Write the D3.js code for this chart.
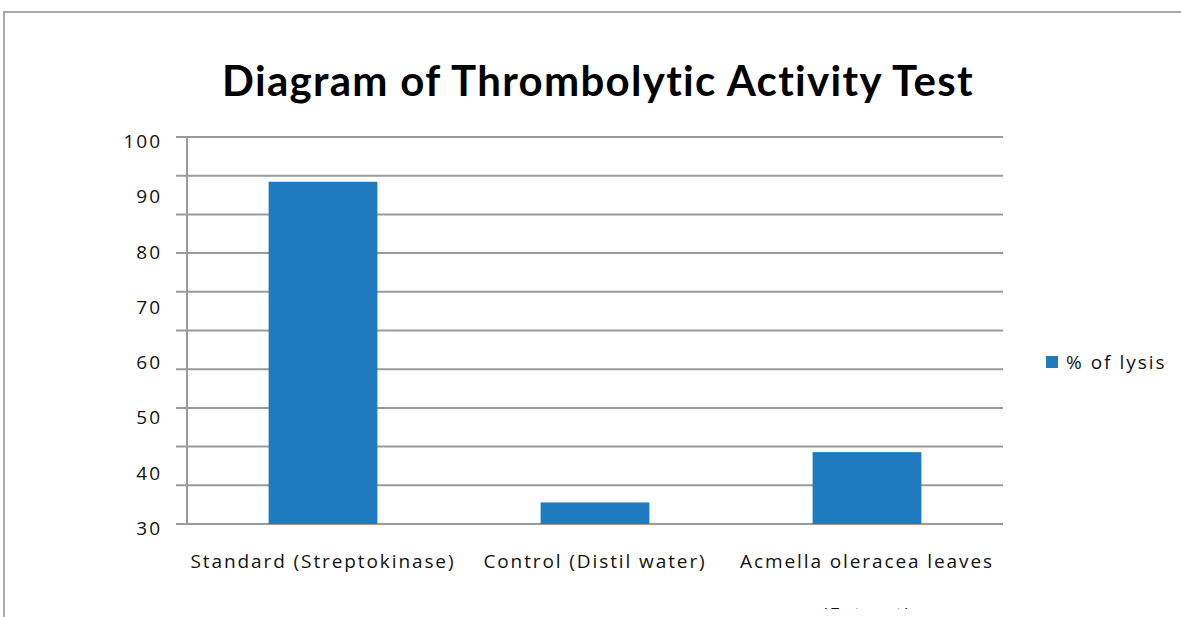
<!DOCTYPE html>
<html>
<head>
<meta charset="utf-8">
<script src="https://cdnjs.cloudflare.com/ajax/libs/d3/7.8.5/d3.min.js"></script>
<style>
  body { margin: 0; background: #fff; }
  svg { display: block; }
</style>
</head>
<body>
<script>
var W = 1181, H = 617;

var categories = ["Standard (Streptokinase)", "Control (Distil water)", "Acmella oleracea leaves"];
var lysis = [91.9, 33.9, 43.0];
var tickLabels = [30, 40, 50, 60, 70, 80, 90, 100];
var seriesName = "% of lysis";
var barColor = "#1f7bbf";

var plot = {left: 187, right: 1003, top: 137, bottom: 524};

var svg = d3.select("body").append("svg")
    .attr("width", W)
    .attr("height", H);

// chart frame (cut off on the right and bottom)
svg.append("rect")
    .attr("x", 4).attr("y", 12)
    .attr("width", W + 10).attr("height", H + 10)
    .attr("fill", "none")
    .attr("stroke", "#a9a9a9")
    .attr("stroke-width", 2);

svg.append("text")
    .attr("x", 598).attr("y", 96)
    .attr("text-anchor", "middle")
    .attr("font-family", "Lato, 'Open Sans', sans-serif")
    .attr("font-weight", "bold")
    .attr("font-size", 42)
    .attr("letter-spacing", 1.3)
    .attr("fill", "#000")
    .text("Diagram of Thrombolytic Activity Test");

var x = d3.scaleBand()
    .domain(categories)
    .range([plot.left, plot.right])
    .paddingInner(0.6)
    .paddingOuter(0.3);

var y = d3.scaleLinear()
    .domain([30, 100])
    .range([plot.bottom, plot.top]);

// gridlines: 10 equal steps over the axis
var gridVals = d3.range(11).map(function(i) { return 30 + i * 7; });

svg.selectAll("line.grid")
    .data(gridVals)
  .enter().append("line")
    .attr("class", "grid")
    .attr("x1", plot.left - 11)
    .attr("x2", plot.right)
    .attr("y1", function(d) { return y(d); })
    .attr("y2", function(d) { return y(d); })
    .attr("stroke", "#9a9a9a")
    .attr("stroke-width", 2);

svg.append("line")
    .attr("x1", plot.left).attr("x2", plot.left)
    .attr("y1", plot.top).attr("y2", plot.bottom)
    .attr("stroke", "#9a9a9a")
    .attr("stroke-width", 2);

svg.selectAll("text.ytick")
    .data(tickLabels)
  .enter().append("text")
    .attr("class", "ytick")
    .attr("x", 162)
    .attr("y", function(d) { return y(d) + 11; })
    .attr("text-anchor", "end")
    .attr("font-family", "'Open Sans', sans-serif")
    .attr("font-size", 19)
    .attr("letter-spacing", 2)
    .attr("fill", "#111")
    .text(function(d) { return d; });

svg.selectAll("rect.bar")
    .data(lysis)
  .enter().append("rect")
    .attr("class", "bar")
    .attr("x", function(d, i) { return x(categories[i]); })
    .attr("width", x.bandwidth())
    .attr("y", function(d) { return y(d); })
    .attr("height", function(d) { return y(30) - y(d); })
    .attr("fill", barColor);

svg.selectAll("text.xlab")
    .data(categories)
  .enter().append("text")
    .attr("class", "xlab")
    .attr("x", function(d) { return x(d) + x.bandwidth() / 2; })
    .attr("y", 568)
    .attr("text-anchor", "middle")
    .attr("font-family", "'Open Sans', sans-serif")
    .attr("font-size", 19)
    .attr("letter-spacing", 1.9)
    .attr("fill", "#111")
    .text(function(d) { return d; });

// second line of the last label, mostly cut off in the original
svg.append("clipPath").attr("id", "cut")
  .append("rect").attr("x", 0).attr("y", 0).attr("width", W).attr("height", 609);

svg.append("text")
    .attr("clip-path", "url(#cut)")
    .attr("x", x(categories[2]) + x.bandwidth() / 2)
    .attr("y", 621)
    .attr("text-anchor", "middle")
    .attr("font-family", "'Open Sans', sans-serif")
    .attr("font-size", 19)
    .attr("letter-spacing", 1.9)
    .attr("fill", "#111")
    .text("(Extract)");

// legend
svg.append("rect")
    .attr("x", 1046).attr("y", 356)
    .attr("width", 12).attr("height", 12)
    .attr("fill", barColor);

svg.append("text")
    .attr("x", 1066).attr("y", 369)
    .attr("font-family", "'Open Sans', sans-serif")
    .attr("font-size", 19)
    .attr("letter-spacing", 2)
    .attr("fill", "#111")
    .text(seriesName);
</script>
</body>
</html>
